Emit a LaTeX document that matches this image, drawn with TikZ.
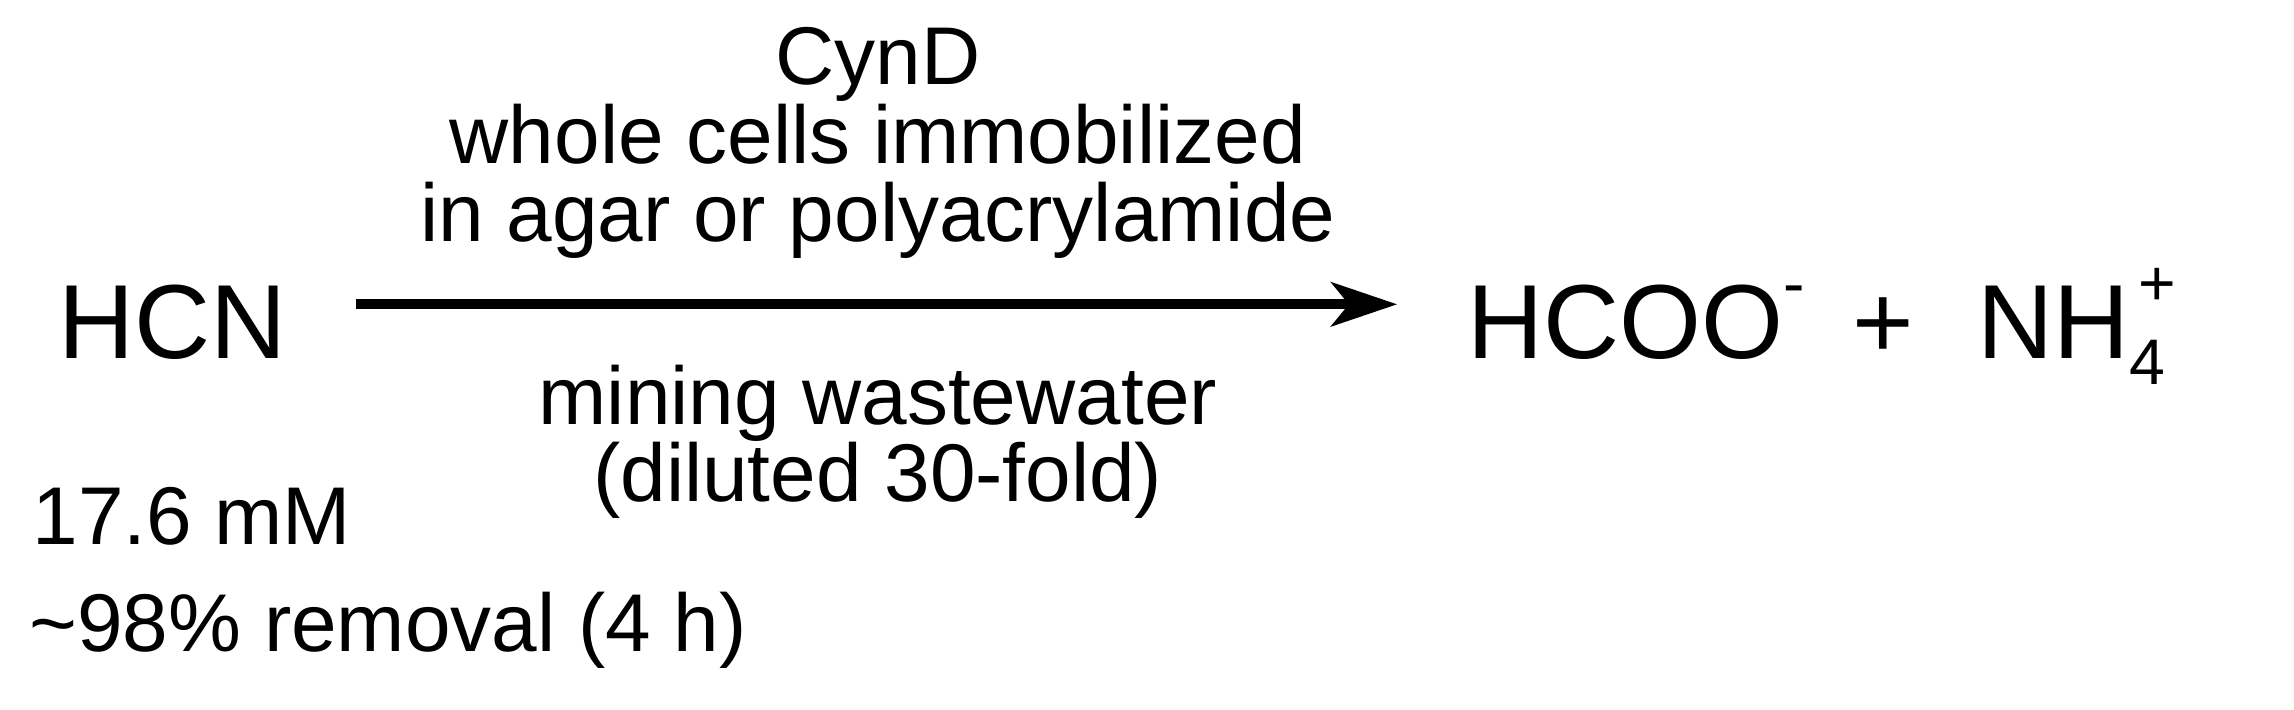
\documentclass[tikz,border=0pt]{standalone}
\usepackage{fontspec}
\setmainfont{Liberation Sans}
\usetikzlibrary{arrows.meta}
\newcommand{\mysup}[1]{\raisebox{0.5em}{\fontsize{44}{44}\selectfont #1}}
\newcommand{\mysub}[1]{\raisebox{-0.25em}{\fontsize{44}{44}\selectfont #1}}
\begin{document}
\begin{tikzpicture}[x=1pt,y=-1pt,
  big/.style={font=\fontsize{72}{80}\selectfont,inner sep=0,anchor=base west},
  lab/.style={font=\fontsize{56}{60}\selectfont,inner sep=0,anchor=base},
  labl/.style={font=\fontsize{56}{60}\selectfont,inner sep=0,anchor=base west}]
\useasboundingbox (0,0) rectangle (1568,485);
\node[big] (hcn) at (40,245) {HCN};
\node[big] (prod) at (1003,245) {HCOO\mysup{-}\hspace{0.45em}+\hspace{0.6em}NH\mysub{4}\hspace{-0.25em}\mysup{+}};
\coordinate (a1) at (243,208);
\coordinate (a2) at (955,208);
\draw[line width=7pt,-{Stealth[length=45pt,width=30pt,inset=12pt]}] (a1) -- (a2);
\node[lab] (l1) at (600,58) {CynD};
\node[lab] (l2) at (600,112) {whole cells immobilized};
\node[lab] (l3) at (600,165) {in agar or polyacrylamide};
\node[lab] (l4) at (600,290) {mining wastewater};
\node[lab] (l5) at (600,343) {(diluted 30-fold)};
\node[labl] (c1) at (22,372) {17.6 mM};
\node[labl] (c2) at (20,445) {\char`\~98\% removal (4 h)};
\end{tikzpicture}
\end{document}
